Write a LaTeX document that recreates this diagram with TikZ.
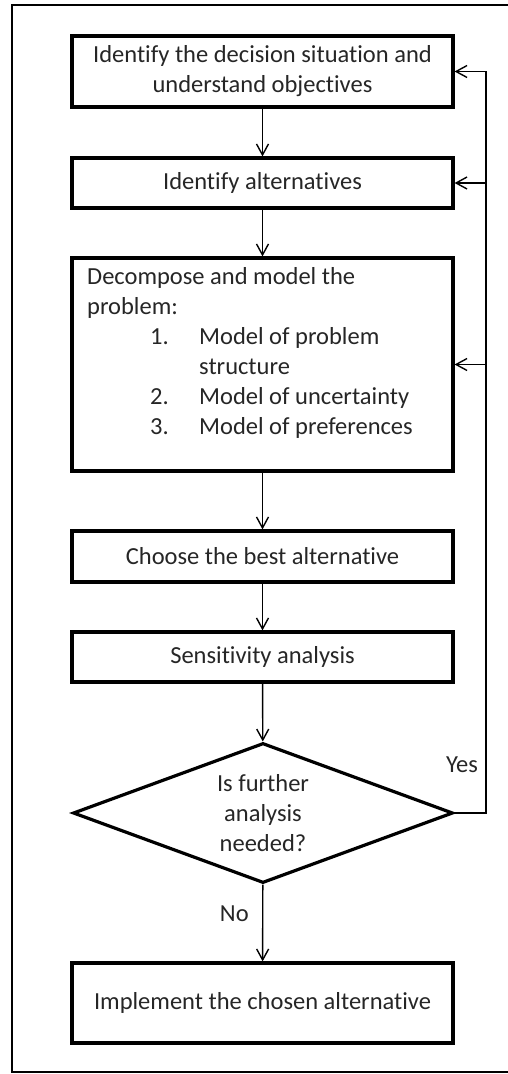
\documentclass[tikz,border=0pt]{standalone}
\usepackage{fontspec}
\setmainfont{Carlito}[Ligatures=NoCommon]
\usetikzlibrary{arrows.meta,shapes.geometric}
\begin{document}
\begin{tikzpicture}[x=1pt,y=-1pt,
  txt/.style={font=\fontsize{24.5}{30}\selectfont, text=black!85},
  box/.style={draw, line width=3.2pt, minimum width=381pt, inner sep=0pt, align=center, txt},
  decision/.style={draw, diamond, line width=3.2pt, minimum width=380pt, minimum height=140pt, inner sep=0pt},
  arr/.style={line width=1.4pt, -{Straight Barb[length=11pt,width=12pt,line width=1.4pt]}}]
\useasboundingbox (0,0) rectangle (507,1074);
% outer frame (open on the right)
\draw[line width=2.8pt] (530,5) -- (12,5) -- (12,1072) -- (530,1072);

\node[box, minimum height=71pt] (b1) at (262.5,71.5) {Identify the decision situation and\\understand objectives};
\node[box, minimum height=50pt] (b2) at (262.5,183) {Identify alternatives};
\node[box, minimum height=213pt] (b3) at (262.5,364.5) {};
\node[txt, anchor=north west, inner sep=0pt, align=left] (b3text) at (87,267)
  {Decompose and model the\\problem:\\
   \hspace*{63pt}\makebox[49pt][l]{1.}Model of problem\\
   \hspace*{112pt}structure\\
   \hspace*{63pt}\makebox[49pt][l]{2.}Model of uncertainty\\
   \hspace*{63pt}\makebox[49pt][l]{3.}Model of preferences};
\node[box, minimum height=51pt] (b4) at (262.5,556.5) {Choose the best alternative};
\node[box, minimum height=50pt] (b5) at (262.5,657) {Sensitivity analysis};
\node[decision] (dec) at (263,813) {};
\node[txt, align=center, inner sep=0pt] (dectext) at (dec.center) {Is further\\analysis\\needed?};
\node[box, minimum height=80pt] (b6) at (262.5,1003) {Implement the chosen alternative};

% main flow
\draw[arr] (b1) -- (b2);
\draw[arr] (b2) -- (b3);
\draw[arr] (b3) -- (b4);
\draw[arr] (b4) -- (b5);
\draw[arr] (b5) -- (dec);
\draw[arr] (dec) -- node[txt, pos=0.38, left=10pt] (no) {No} (b6);

% feedback loop
\coordinate (rail) at (486,0);
\draw[arr] (dec.east) -| (rail |- b1.east) -- (b1.east);
\draw[arr] (rail |- b2.east) -- (b2.east);
\draw[arr] (rail |- b3.east) -- (b3.east);
\node[txt] (yes) at (462,765) {Yes};
\end{tikzpicture}
\end{document}
